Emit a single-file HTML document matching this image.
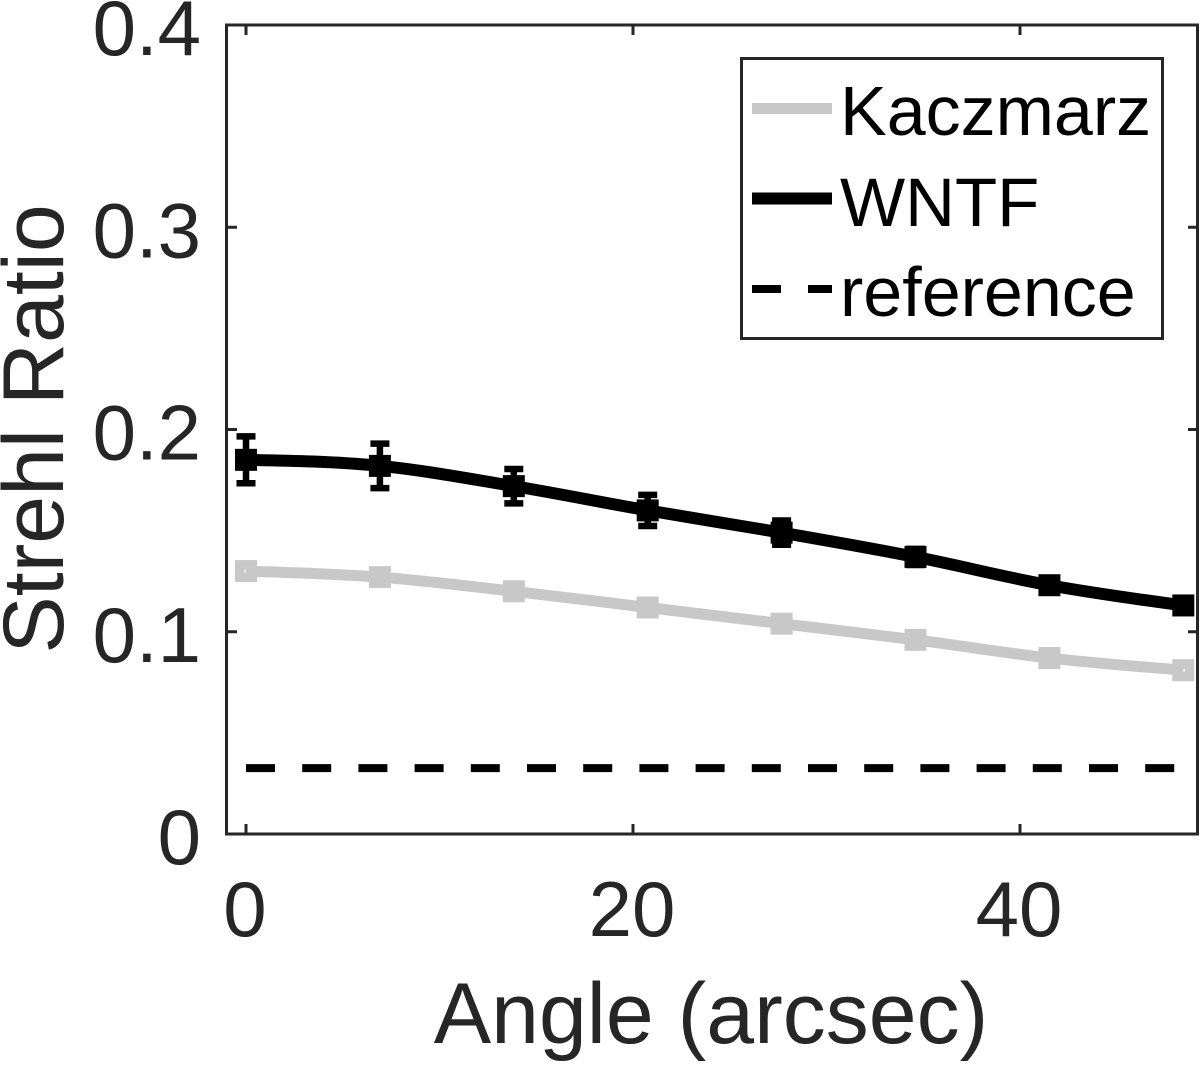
<!DOCTYPE html>
<html>
<head>
<meta charset="utf-8">
<title>Strehl Ratio vs Angle</title>
<style>
html,body{margin:0;padding:0;background:#fff;width:1200px;height:1065px;overflow:hidden}
svg{display:block;font-family:"Liberation Sans",Arial,sans-serif}
</style>
</head>
<body>
<svg id="chart" xmlns="http://www.w3.org/2000/svg" width="1200" height="1065" viewBox="0 0 1200 1065">
  <rect x="0" y="0" width="1200" height="1065" fill="#fff"/>
  <g id="series-layer"></g>
  <rect x="226.5" y="25" width="971" height="809" fill="none" stroke="#262626" stroke-width="3"/>
  <g id="tick-layer"></g>
  <text x="711" y="1043" font-size="86" fill="#262626" text-anchor="middle">Angle (arcsec)</text>
  <text transform="translate(63,429) rotate(-90)" font-size="86" fill="#262626" text-anchor="middle">Strehl Ratio</text>
  <g>
    <rect x="741.5" y="58.5" width="421" height="280" fill="#fff" stroke="#262626" stroke-width="3"/>
    <line x1="752" x2="832" y1="108.500" y2="108.500" stroke="#c8c8c8" stroke-width="11"/>
    <text x="840" y="135" font-size="70" fill="#000">Kaczmarz</text>
    <line x1="752" x2="832" y1="198.500" y2="198.500" stroke="#000" stroke-width="12"/>
    <text x="840" y="226" font-size="69" fill="#000">WNTF</text>
    <line x1="752" x2="832" y1="289" y2="289" stroke="#000" stroke-width="8" stroke-dasharray="29 27"/>
    <text x="840" y="316" font-size="70" fill="#000">reference</text>
  </g>
</svg>
<script>
const angles = [0, 6.92, 13.84, 20.76, 27.68, 34.6, 41.52, 48.44];
const kaczmarz = [0.130, 0.127, 0.120, 0.112, 0.104, 0.096, 0.087, 0.081];
const wntf = [0.185, 0.182, 0.172, 0.160, 0.149, 0.137, 0.123, 0.113];
const wntfError = [0.0116, 0.011, 0.0085, 0.0077, 0.006, 0.004, 0.003, 0.002];
const referenceValues = [0.0326, 0.0326];
const referenceAngles = [0, 48.44];
const xTicks = [0, 20, 40];
const xTickLabels = ['0', '20', '40'];
const yTicks = [0, 0.1, 0.2, 0.3, 0.4];
const yTickLabels = ['0', '0.1', '0.2', '0.3', '0.4'];

const NS = 'http://www.w3.org/2000/svg';
function xScale(v) { return 246 + v * 19.35; }
function yScale(v) { return 834 - v * 2022.5; }
function make(tag, attrs, parent) {
  const el = document.createElementNS(NS, tag);
  Object.keys(attrs).forEach(function (k) { el.setAttribute(k, attrs[k]); });
  parent.appendChild(el);
  return el;
}
function smoothPath(xs, ys) {
  const p = xs.map(function (x, i) { return [xScale(x), yScale(ys[i])]; });
  const n = p.length;
  const t = p.map(function (pt, i) {
    if (i === 0 || i === n - 1) return null;
    return [(p[i + 1][0] - p[i - 1][0]) / 2, (p[i + 1][1] - p[i - 1][1]) / 2];
  });
  t[0] = [(3 * (p[1][0] - p[0][0]) - t[1][0]) / 2, (3 * (p[1][1] - p[0][1]) - t[1][1]) / 2];
  t[n - 1] = [(3 * (p[n - 1][0] - p[n - 2][0]) - t[n - 2][0]) / 2, (3 * (p[n - 1][1] - p[n - 2][1]) - t[n - 2][1]) / 2];
  let d = 'M' + p[0][0].toFixed(2) + ' ' + p[0][1].toFixed(2);
  for (let i = 0; i < n - 1; i++) {
    d += 'C' + (p[i][0] + t[i][0] / 3).toFixed(2) + ' ' + (p[i][1] + t[i][1] / 3).toFixed(2) +
      ' ' + (p[i + 1][0] - t[i + 1][0] / 3).toFixed(2) + ' ' + (p[i + 1][1] - t[i + 1][1] / 3).toFixed(2) +
      ' ' + p[i + 1][0].toFixed(2) + ' ' + p[i + 1][1].toFixed(2);
  }
  return d;
}

const seriesLayer = document.getElementById('series-layer');
const tickLayer = document.getElementById('tick-layer');

const refLine = make('line', { x1: xScale(referenceAngles[0]), x2: xScale(referenceAngles[1]), y1: yScale(referenceValues[0]), y2: yScale(referenceValues[1]), stroke: '#000', 'stroke-width': 8, 'stroke-dasharray': '29 27.2' }, seriesLayer);



const kaczLine = make('path', { d: smoothPath(angles, kaczmarz), fill: 'none', stroke: '#c8c8c8', 'stroke-width': 11 }, seriesLayer);



angles.forEach(function (a, i) {
  const m = make('rect', { x: xScale(a) - 6.25, y: yScale(kaczmarz[i]) - 6.25, width: 12.5, height: 12.5, fill: 'none', stroke: '#c8c8c8', 'stroke-width': 9.5 }, seriesLayer);
  
  
});

const wntfLine = make('path', { d: smoothPath(angles, wntf), fill: 'none', stroke: '#000', 'stroke-width': 12 }, seriesLayer);



angles.forEach(function (a, i) {
  const x = xScale(a), y = yScale(wntf[i]);
  const top = yScale(wntf[i] + wntfError[i]), bot = yScale(wntf[i] - wntfError[i]);
  const bar = make('path', {
    d: 'M' + x + ' ' + top + 'V' + bot + 'M' + (x - 9.5) + ' ' + top + 'H' + (x + 9.5) + 'M' + (x - 9.5) + ' ' + bot + 'H' + (x + 9.5),
    fill: 'none', stroke: '#000', 'stroke-width': 6.5
  }, seriesLayer);
  
  
  const m = make('rect', { x: x - 6.75, y: y - 6.75, width: 13.5, height: 13.5, fill: 'none', stroke: '#000', 'stroke-width': 8.5 }, seriesLayer);
  
  
});

xTicks.forEach(function (v, i) {
  const x = xScale(v);
  const t = make('path', { d: 'M' + x + ' 834V824M' + x + ' 25V35', stroke: '#262626', 'stroke-width': 3, fill: 'none' }, tickLayer);
  
  
  const l = make('text', { x: x - 1, y: 936, 'font-size': 78, fill: '#262626', 'text-anchor': 'middle' }, tickLayer);
  l.textContent = xTickLabels[i];
  
  
});

yTicks.forEach(function (v, i) {
  const y = yScale(v);
  const t = make('path', { d: 'M227 ' + y + 'H237M1198 ' + y + 'H1188', stroke: '#262626', 'stroke-width': 3, fill: 'none' }, tickLayer);
  
  
  const l = make('text', { x: 201, y: y + 30, 'font-size': 78, fill: '#262626', 'text-anchor': 'end' }, tickLayer);
  l.textContent = yTickLabels[i];
  
  
});
</script>
</body>
</html>
